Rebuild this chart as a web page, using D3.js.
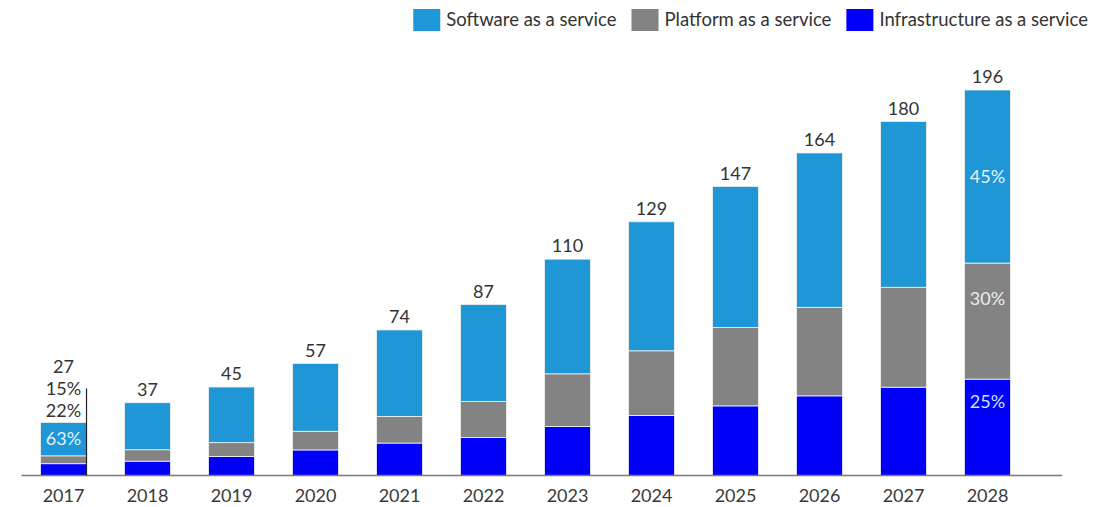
<!DOCTYPE html>
<html>
<head>
<meta charset="utf-8">
<script src="https://cdn.jsdelivr.net/npm/d3@7"></script>
<style>
  html, body { margin: 0; padding: 0; background: #fff; }
  svg { display: block; font-family: Lato, "Open Sans", sans-serif; }
</style>
</head>
<body>
<svg id="chart" width="1095" height="507"></svg>
<script>
// Cloud services market by delivery model, USD bn
const years = ["2017", "2018", "2019", "2020", "2021", "2022", "2023", "2024", "2025", "2026", "2027", "2028"];
const saas  = [17, 23.9, 28.3, 34.5, 44, 49.4, 58.3, 65.6, 71.8, 78.5, 84.3, 88];
const paas  = [4, 5.8, 7, 9.5, 13.5, 18.3, 26.8, 32.9, 39.8, 45, 50.8, 59];
const iaas  = [6, 7.3, 9.7, 13, 16.5, 19.3, 24.9, 30.5, 35.4, 40.5, 44.9, 49];
const seriesNames = ["Software as a service", "Platform as a service", "Infrastructure as a service"];
// years whose segment shares are written out
const shareYears = ["2017", "2028"];
// year whose small shares sit above the bar instead of inside
const calloutYear = "2017";

const W = 1095, H = 507;
const baseY = 475.5, topY = 90;
const axisLeft = 21.5, axisRight = 1062;

const colors = { saas: "#1f96d6", paas: "#838383", iaas: "#0000fa" };
const shareColors = { saas: "#e4f3fb", paas: "#ececec", iaas: "#c4e6ff" };
// vertical placement of share labels inside a segment (fraction from segment bottom)
const shareFrac = { saas: 0.5, paas: 0.69, iaas: 0.77 };

const rows = years.map((y, i) => ({ year: y, saas: saas[i], paas: paas[i], iaas: iaas[i] }));
const totals = rows.map(r => r.saas + r.paas + r.iaas);

const keys = ["iaas", "paas", "saas"];
const stacked = d3.stack().keys(keys)(rows);

const svg = d3.select("#chart");

const x = d3.scaleBand()
  .domain(years)
  .range([axisLeft, axisLeft + 84 * years.length])
  .paddingInner(0.452)
  .paddingOuter(0.226);

const y = d3.scaleLinear()
  .domain([0, d3.max(totals)])
  .range([baseY, topY]);

// stacked bars
svg.append("g").selectAll("g")
  .data(stacked)
  .join("g")
  .attr("fill", d => colors[d.key])
  .selectAll("rect")
  .data(d => d)
  .join("rect")
  .attr("x", d => x(d.data.year))
  .attr("width", x.bandwidth())
  .attr("y", d => y(d[1]))
  .attr("height", d => y(d[0]) - y(d[1]))
  .attr("stroke", "#f4f4ee")
  .attr("stroke-width", 0.8);

// axis
const axis = d3.axisBottom(x).tickSize(0).tickPadding(14);
const gx = svg.append("g")
  .attr("transform", `translate(0,${baseY})`)
  .call(axis);
gx.select(".domain").remove();
gx.selectAll("text")
  .attr("font-family", "Lato, 'Open Sans', sans-serif")
  .attr("font-size", 18)
  .attr("fill", "#3a3a3a");
svg.append("line")
  .attr("x1", axisLeft).attr("x2", axisRight)
  .attr("y1", baseY).attr("y2", baseY)
  .attr("stroke", "#7a7a7a").attr("stroke-width", 1.5);

const fmtPct = v => Math.round(v * 100) + "%";
const fmtTot = d3.format(".0f");

// totals above bars (the callout year stacks its shares underneath)
rows.forEach((r, i) => {
  const cx = x(r.year) + x.bandwidth() / 2;
  const top = y(totals[i]);
  const callout = r.year === calloutYear;
  const tg = svg.append("g").attr("font-size", 18).attr("fill", "#333").attr("text-anchor", "middle");
  if (callout) {
    const lower = ["iaas", "paas"];
    lower.forEach((k, j) => {
      tg.append("text")
        .attr("x", cx).attr("y", top - 12 - 22 * j)
        .attr("dy", "0.35em")
        .text(fmtPct(r[k] / totals[i]));
    });
    tg.append("text")
      .attr("x", cx).attr("y", top - 12 - 22 * lower.length)
      .attr("dy", "0.35em")
      .text(fmtTot(totals[i]));
    // leader line down the bar's right edge
    svg.append("line")
      .attr("x1", x(r.year) + x.bandwidth()).attr("x2", x(r.year) + x.bandwidth())
      .attr("y1", top - 12 - 22 * (lower.length - 1)).attr("y2", baseY)
      .attr("stroke", "#222").attr("stroke-width", 1.2);
  } else {
    tg.append("text")
      .attr("x", cx).attr("y", top - 13)
      .attr("dy", "0.35em")
      .text(fmtTot(totals[i]));
  }
});

// shares inside the segments
stacked.forEach(s => {
  s.forEach((d, i) => {
    const yr = d.data.year;
    if (!shareYears.includes(yr)) return;
    if (yr === calloutYear && s.key !== "saas") return;
    const cx = x(yr) + x.bandwidth() / 2;
    const yv = d[0] + (d[1] - d[0]) * shareFrac[s.key];
    svg.append("text")
      .attr("x", cx).attr("y", y(yv))
      .attr("dy", "0.35em")
      .attr("text-anchor", "middle")
      .attr("font-size", 18)
      .attr("fill", shareColors[s.key])
      .text(fmtPct((d[1] - d[0]) / totals[i]));
  });
});

// legend, right-aligned at the top
const legendKeys = ["saas", "paas", "iaas"];
const lg = svg.append("g");
const items = legendKeys.map((k, i) => {
  const g = lg.append("g");
  g.append("rect").attr("width", 27).attr("height", 22).attr("y", 9).attr("fill", colors[k]);
  const t = g.append("text")
    .attr("x", 33).attr("y", 20).attr("dy", "0.35em")
    .attr("font-size", 18.5).attr("fill", "#333")
    .text(seriesNames[i]);
  return { g, w: 33 + t.node().getComputedTextLength() };
});
const gap = 15;
const totalW = d3.sum(items, d => d.w) + gap * (items.length - 1);
let lx = 1088 - totalW;
items.forEach(it => {
  it.g.attr("transform", `translate(${lx},0)`);
  lx += it.w + gap;
});
</script>
</body>
</html>
